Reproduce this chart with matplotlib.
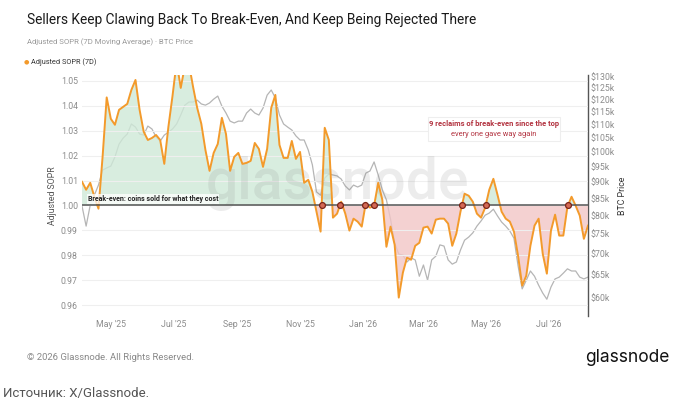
import numpy as np
import pandas as pd
import matplotlib
matplotlib.use('Agg')
import matplotlib.pyplot as plt
import matplotlib.dates as mdates
import matplotlib.transforms as mtransforms
from matplotlib.patches import Rectangle

# 7D Adjusted SOPR and BTC price, one reading every 4 days
dates = pd.date_range('2025-04-03', periods=124, freq='4D')
sopr = [1.0095, 1.0063, 1.0091, 1.0035, 0.9987, 1.0195, 1.0434, 1.0348, 1.0324, 1.0384,
        1.0396, 1.0408, 1.0464, 1.0504, 1.0384, 1.0296, 1.0263, 1.0271, 1.0283, 1.0263,
        1.0167, 1.0316, 1.0440, 1.0576, 1.0472, 1.0560, 1.0568, 1.0476, 1.0392, 1.0328,
        1.0223, 1.0139, 1.0211, 1.0247, 1.0352, 1.0287, 1.0139, 1.0195, 1.0211, 1.0167,
        1.0171, 1.0179, 1.0251, 1.0227, 1.0155, 1.0227, 1.0392, 1.0444, 1.0243, 1.0191,
        1.0191, 1.0259, 1.0187, 1.0215, 1.0091, 1.0103, 1.0055, 0.9975, 0.9895, 1.0312,
        1.0263, 0.9951, 0.9967, 1.0015, 0.9967, 0.9899, 0.9947, 0.9935, 0.9915, 1.0011,
        0.9991, 0.9999, 1.0091, 1.0023, 0.9834, 0.9915, 0.9842, 0.9630, 0.9730, 0.9790,
        0.9782, 0.9838, 0.9850, 0.9911, 0.9915, 0.9887, 0.9943, 0.9947, 0.9947, 0.9927,
        0.9838, 0.9887, 0.9975, 1.0047, 1.0039, 1.0015, 0.9967, 0.9951, 0.9991, 1.0063,
        1.0107, 1.0043, 0.9975, 0.9947, 0.9935, 0.9895, 0.9798, 0.9678, 0.9718, 0.9838,
        0.9919, 0.9947, 0.9806, 0.9726, 0.9899, 0.9963, 0.9879, 0.9879, 0.9995, 1.0035,
        0.9999, 0.9959, 0.9866, 0.9919]
btc_k = [82.7, 77.1, 83.0, 85.9, 89.0, 93.8, 94.5, 95.1, 98.2, 102.7,
         104.9, 106.4, 110.2, 109.0, 106.4, 106.0, 109.4, 108.3, 105.3, 103.8,
         106.0, 107.1, 108.3, 110.2, 113.7, 117.7, 119.0, 119.0, 119.8, 118.2,
         117.7, 118.6, 120.2, 121.5, 117.3, 114.5, 111.3, 110.6, 111.3, 111.3,
         114.5, 116.1, 114.5, 113.7, 116.5, 121.9, 124.1, 120.7, 113.7, 110.2,
         109.0, 107.9, 105.7, 104.2, 104.2, 100.6, 95.5, 86.9, 85.9, 91.2,
         92.5, 92.2, 91.9, 90.9, 88.7, 87.5, 89.0, 88.4, 89.0, 92.8,
         93.5, 96.5, 92.2, 87.5, 84.5, 79.0, 72.7, 69.9, 69.7, 68.0,
         69.0, 68.5, 64.7, 67.3, 63.8, 68.5, 69.4, 72.2, 71.9, 68.5,
         67.5, 68.0, 70.9, 73.4, 74.2, 75.3, 77.1, 78.5, 80.1, 80.7,
         81.8, 79.9, 78.2, 77.1, 75.8, 73.9, 67.1, 61.9, 63.8, 65.9,
         64.7, 62.7, 61.0, 59.7, 62.3, 64.1, 64.5, 65.4, 66.4, 65.9,
         65.9, 64.5, 64.1, 64.5]

sopr_ticks = [0.96, 0.97, 0.98, 0.99, 1.00, 1.01, 1.02, 1.03, 1.04, 1.05]
price_ticks = [60, 65, 70, 75, 80, 85, 90, 95, 100, 105, 110, 115, 120, 125, 130]
break_even = 1.0
top_date = '2025-11-01'

ORANGE = '#f39a2b'
GRAY_TXT = '#8c8c8c'
RED_TXT = '#b2323f'

plt.rcParams['font.family'] = ['Roboto', 'DejaVu Sans']

fig = plt.figure(figsize=(6.75, 4.04), dpi=100)
ax2 = fig.add_axes([0.1215, 0.2178, 0.7496, 0.5966])
ax1 = ax2.twinx()
ax1.set_zorder(ax2.get_zorder() + 1)
ax1.patch.set_visible(False)
# SOPR scale on the left, price on the right
ax1.yaxis.tick_left()
ax1.yaxis.set_label_position('left')
ax2.yaxis.tick_right()
ax2.yaxis.set_label_position('right')

x = mdates.date2num(dates.to_pydatetime())
y = np.array(sopr)

# BTC price, log scale
ax2.plot(x, btc_k, color='#b5b5b5', lw=0.9)
ax2.set_yscale('log')
ax2.set_ylim(56.3, 130.8)
ax2.set_yticks(price_ticks)
ax2.set_yticklabels(['$%dk' % p for p in price_ticks])
ax2.yaxis.set_minor_locator(matplotlib.ticker.NullLocator())
ax2.set_ylabel('BTC Price', fontsize=6.3, color='#333333', labelpad=2)

# fills between SOPR and break-even
ax1.fill_between(x, y, break_even, where=y >= break_even, interpolate=True,
                 color='#cfe9d8', alpha=0.8, lw=0, zorder=1)
ax1.fill_between(x, y, break_even, where=y < break_even, interpolate=True,
                 color='#f2c6c6', alpha=0.8, lw=0, zorder=1)

# watermark
ax1.text(0.505, 0.55, 'glassnode', transform=ax1.transAxes, fontsize=41,
         color='#8a8a8a', alpha=0.16, ha='center', va='center', zorder=2,
         fontweight='medium')

ax1.plot(x, y, color=ORANGE, lw=1.4, zorder=3)
ax1.axhline(break_even, color='#555555', lw=1.1, zorder=4)

# reclaims of break-even after the top
cut = mdates.date2num(pd.Timestamp(top_date).to_pydatetime())
cross = []
for i in range(1, len(y)):
    if x[i] > cut and y[i - 1] < break_even <= y[i]:
        t = (break_even - y[i - 1]) / (y[i] - y[i - 1])
        cross.append(x[i - 1] + t * (x[i] - x[i - 1]))
ax1.plot(cross, [break_even] * len(cross), 'o', ms=4.2, mfc='#d46a55',
         mec='#7a2418', mew=0.9, zorder=5)

ax1.set_ylim(0.9556, 1.0524)
ax1.set_yticks(sopr_ticks)
ax1.set_yticklabels(['%.2f' % v for v in sopr_ticks])
ax1.grid(axis='y', color='#efefef', lw=0.8, zorder=0)
ax1.set_ylabel('Adjusted SOPR', fontsize=6.3, color='#555555', labelpad=3)

ax1.set_xlim(mdates.date2num(pd.Timestamp('2025-04-03').to_pydatetime()),
             mdates.date2num(pd.Timestamp('2026-08-08').to_pydatetime()))
ax1.xaxis.set_major_locator(mdates.MonthLocator(bymonth=[1, 3, 5, 7, 9, 11]))
ax1.xaxis.set_major_formatter(mdates.DateFormatter("%b '%y"))

for ax in (ax1, ax2):
    ax.tick_params(length=0, labelsize=6.3, colors=GRAY_TXT, pad=3)
    for s in ax.spines.values():
        s.set_visible(False)
ax2.spines['right'].set_visible(True)
ax2.spines['right'].set_color('#555555')
ax2.spines['right'].set_linewidth(1)
ax2.tick_params(axis='y', pad=2)

# break-even label
trans = mtransforms.blended_transform_factory(ax1.transAxes, ax1.transData)
ax1.text(0.011, 1.0011, 'Break-even: coins sold for what they cost', transform=trans,
         fontsize=5.0, fontweight='bold', color='#222222', va='bottom', zorder=6,
         bbox=dict(boxstyle='square,pad=0.15', fc='white', ec='none', alpha=0.75))

# annotation box
ax1.add_patch(Rectangle((0.684, 0.726), 0.261, 0.1, transform=ax1.transAxes,
                        fc='white', ec='#eeeeee', lw=0.8, zorder=6))
ax1.text(0.8145, 0.797, '9 reclaims of break-even since the top', transform=ax1.transAxes,
         fontsize=5.4, fontweight='bold', color=RED_TXT, ha='center', va='center', zorder=7)
ax1.text(0.8145, 0.755, 'every one gave way again', transform=ax1.transAxes,
         fontsize=5.4, color=RED_TXT, ha='center', va='center', zorder=7)

# titles and legend
fig.text(27 / 675, 1 - 20 / 404, 'Sellers Keep Clawing Back To Break-Even, And Keep Being Rejected There',
         fontsize=9.9, color='#1a1a1a', va='center')
fig.text(27 / 675, 1 - 42 / 404, 'Adjusted SOPR (7D Moving Average) · BTC Price',
         fontsize=5.6, color='#999999', va='center')
fig.text(26 / 675, 1 - 62 / 404, '●', fontsize=4.5, color=ORANGE, va='center', ha='center')
fig.text(31 / 675, 1 - 62 / 404, 'Adjusted SOPR (7D)', fontsize=5.3, color='#333333', va='center')

# footer
fig.text(27 / 675, 1 - 358 / 404, '© 2026 Glassnode. All Rights Reserved.',
         fontsize=6.8, color='#888888', va='center')
fig.text(670 / 675, 1 - 358 / 404, 'glassnode', fontsize=12.5, color='#111111',
         va='center', ha='right', family=['Inter', 'DejaVu Sans'])
fig.text(3 / 675, 1 - 393 / 404, 'Источник: X/Glassnode.', fontsize=9.5, color='#555555',
         va='center')

fig.savefig('out.png', dpi=100)
